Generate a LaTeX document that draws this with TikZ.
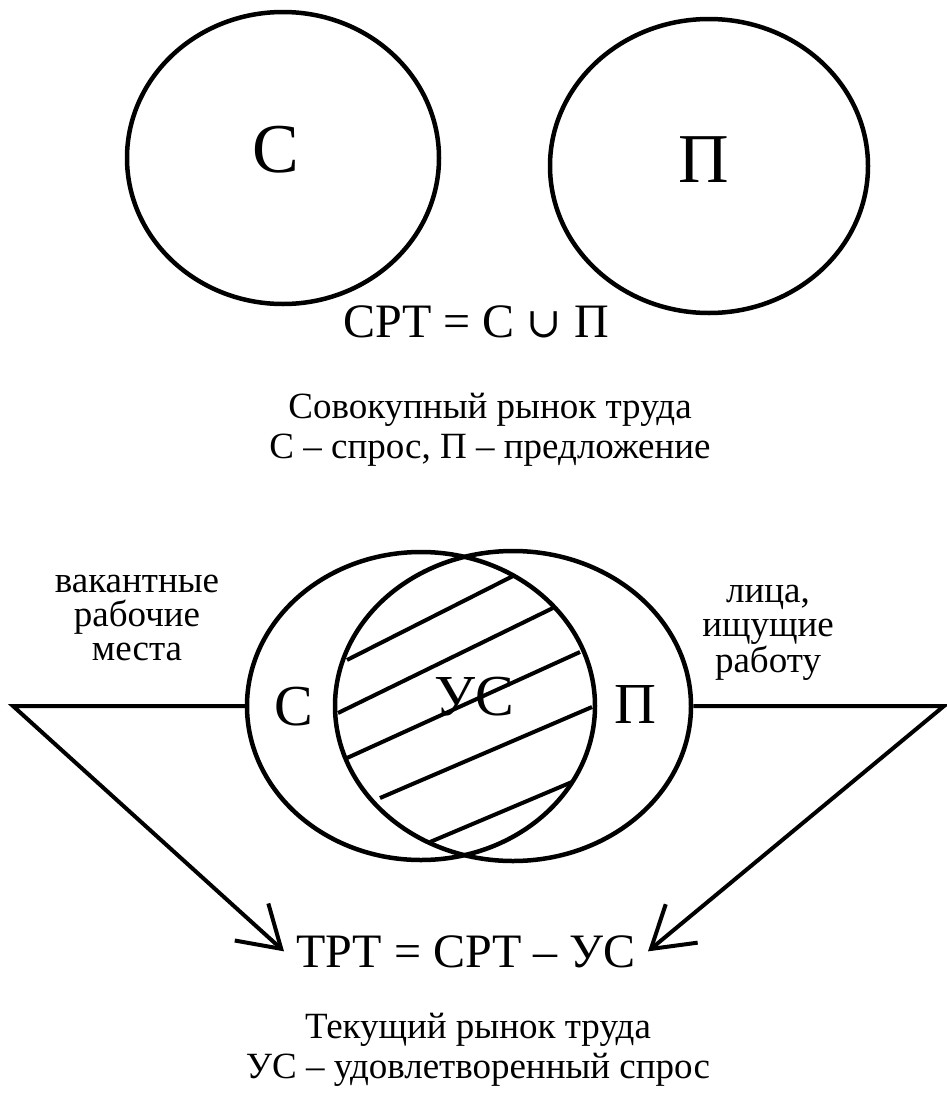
\documentclass[tikz,border=0pt]{standalone}
\usepackage{fontspec}
\setmainfont{Liberation Serif}
\newfontfamily\timesfont{Liberation Serif}
\newfontfamily\symbfont{DejaVu Serif}
\usetikzlibrary{shapes.geometric, arrows.meta, positioning}

\begin{document}
\begin{tikzpicture}[
    x=1pt, y=-1pt,
    setshape/.style={ellipse, draw=black, line width=4.5pt, inner sep=0pt},
    biglabel/.style={font=\timesfont\fontsize{70}{70}\selectfont, anchor=base, inner sep=0pt},
    seclabel/.style={font=\timesfont\fontsize{58}{58}\selectfont, anchor=base, inner sep=0pt},
    formula/.style={font=\timesfont\fontsize{48}{48}\selectfont, anchor=base, inner sep=12pt},
    caption/.style={font=\timesfont\fontsize{37}{40}\selectfont, align=center},
    sidenote/.style={font=\timesfont\fontsize{37}{34}\selectfont, align=center},
    hatch/.style={line width=4pt},
    arr/.style={line width=4pt, line join=miter, -{Straight Barb[length=40pt, width=50pt]}}
]
\useasboundingbox (0,0) rectangle (947,1106);

% Total labour market
\node[setshape, minimum width=312pt, minimum height=292pt] (dem) at (283,158) {};
\node[setshape, minimum width=318pt, minimum height=294pt] (sup) at (709,166) {};
\node[biglabel] (demlab) at (276,172) {С};
\node[biglabel] (suplab) at (704,182) {П};
\node[formula] (crt) at (476,337) {СРТ = С {\symbfont\fontsize{42}{42}\selectfont ∪} П};
\node[caption] (capA) at (490,430) {Совокупный рынок труда\\С – спрос, П – предложение};

% Current labour market
\foreach \xa/\ya/\xb/\yb in {347/660/515/575, 338/713/553/608, 347/758/580/652,
                            380/798/592/707, 430/842/572/782}
    \draw[hatch] (\xa,\ya) -- (\xb,\yb);

\node[setshape, minimum width=348pt, minimum height=308pt] (dem2) at (421,706) {};
\node[setshape, minimum width=356pt, minimum height=310pt] (sup2) at (513,706) {};
\node[seclabel] (demlab2) at (294,725) {С};
\node[seclabel] (satlab) at (474,715) {УС};
\node[seclabel] (suplab2) at (635,723) {П};

\node[sidenote] (vacant) at (137,618) {вакантные\\рабочие\\места};
\node[sidenote] (seekers) at (768,633) {лица,\\ищущие\\работу};

\node[formula] (trt) at (466,967) {ТРТ = СРТ – УС};
\node[caption] (capB) at (478,1050) {Текущий рынок труда\\УС – удовлетворенный спрос};

% Arrows
\coordinate (lcorner) at (13,706);
\coordinate (rcorner) at (944,706);
\draw[arr] (dem2.west) -- (lcorner) -- (trt.west);
\draw[arr] (sup2.east) -- (rcorner) -- (trt.east);

\end{tikzpicture}
\end{document}
